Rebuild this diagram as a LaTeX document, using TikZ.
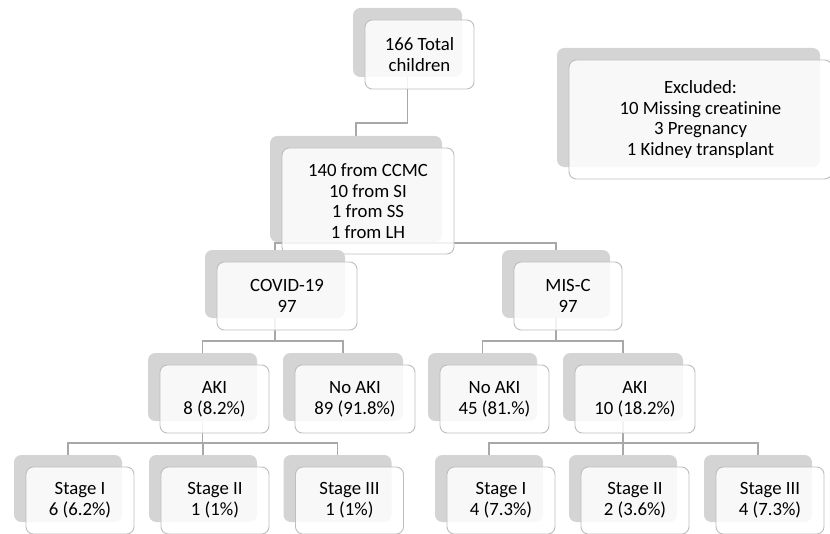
\documentclass[tikz,border=0pt]{standalone}
\usepackage{fontspec}
\setmainfont{Carlito}[Ligatures=NoCommon]
\usetikzlibrary{backgrounds}
\definecolor{boxgray}{RGB}{212,212,212}
\definecolor{edgegray}{RGB}{190,190,190}
\definecolor{linegray}{RGB}{168,168,168}

\begin{document}
\begin{tikzpicture}[x=0.03cm,y=-0.03cm]
    \tikzset{
        backbox/.style 2 args={fill=boxgray, rounded corners=0.22cm, inner sep=0pt,
                minimum width=#1*0.03cm, minimum height=#2*0.03cm},
        frontbox/.style 2 args={draw=edgegray, line width=0.8pt, fill=white, fill opacity=0.85,
                text opacity=1, rounded corners=0.22cm, inner sep=0pt, align=center,
                font=\fontsize{16}{17.6}\selectfont,
                minimum width=#1*0.03cm, minimum height=#2*0.03cm},
        link/.style={draw=linegray, line width=1.3pt},
    }
    \useasboundingbox (0,0) rectangle (830,534);

    \node [backbox={109}{69}] (top-b) at (407.5,42.5) {};
    \node [frontbox={109}{69}] (top) at ([shift={(12,12)}]top-b) {166 Total\\children};

    \node [backbox={263}{119}] (excl-b) at (688.5,107.5) {};
    \node [frontbox={263}{119}] (excl) at ([shift={(12,12)}]excl-b) {Excluded:\\10 Missing creatinine\\3 Pregnancy\\1 Kidney transplant};

    \node [backbox={172}{106}] (src-b) at (356,189) {};
    \node [frontbox={172}{106}] (src) at ([shift={(12,12)}]src-b) {140 from CCMC\\10 from SI\\1 from SS\\1 from LH};

    \node [backbox={140}{68}] (covid-b) at (275,284) {};
    \node [frontbox={140}{68}] (covid) at ([shift={(12,12)}]covid-b) {COVID-19\\97};

    \node [backbox={108}{68}] (misc-b) at (556,284) {};
    \node [frontbox={108}{68}] (misc) at ([shift={(12,12)}]misc-b) {MIS-C\\97};

    \node [backbox={109}{68}] (aki1-b) at (202.5,387) {};
    \node [frontbox={109}{68}] (aki1) at ([shift={(12,12)}]aki1-b) {AKI\\8 (8.2\%)};

    \node [backbox={120}{68}] (noaki1-b) at (343,387) {};
    \node [frontbox={120}{68}] (noaki1) at ([shift={(12,12)}]noaki1-b) {No AKI\\89 (91.8\%)};

    \node [backbox={109}{68}] (noaki2-b) at (482.5,387) {};
    \node [frontbox={109}{68}] (noaki2) at ([shift={(12,12)}]noaki2-b) {No AKI\\45 (81.\%)};

    \node [backbox={120}{68}] (aki2-b) at (623,387) {};
    \node [frontbox={120}{68}] (aki2) at ([shift={(12,12)}]aki2-b) {AKI\\10 (18.2\%)};

    \node [backbox={108}{67}] (st1-b) at (68,488.5) {};
    \node [frontbox={108}{67}] (st1) at ([shift={(12,12)}]st1-b) {Stage I\\6 (6.2\%)};

    \node [backbox={108}{67}] (st2-b) at (203,488.5) {};
    \node [frontbox={108}{67}] (st2) at ([shift={(12,12)}]st2-b) {Stage II\\1 (1\%)};

    \node [backbox={108}{67}] (st3-b) at (337.5,488.5) {};
    \node [frontbox={108}{67}] (st3) at ([shift={(12,12)}]st3-b) {Stage III\\1 (1\%)};

    \node [backbox={108}{67}] (st4-b) at (489,488.5) {};
    \node [frontbox={108}{67}] (st4) at ([shift={(12,12)}]st4-b) {Stage I\\4 (7.3\%)};

    \node [backbox={108}{67}] (st5-b) at (623,488.5) {};
    \node [frontbox={108}{67}] (st5) at ([shift={(12,12)}]st5-b) {Stage II\\2 (3.6\%)};

    \node [backbox={108}{67}] (st6-b) at (758,488.5) {};
    \node [frontbox={108}{67}] (st6) at ([shift={(12,12)}]st6-b) {Stage III\\4 (7.3\%)};

    \coordinate (bus1) at (0,123);
    \coordinate (bus2) at (0,243);
    \coordinate (bus3) at (0,341);
    \coordinate (bus4) at (0,443);

    \begin{pgfonlayer}{background}
        \draw [link] (top-b) |- (bus1 -| src-b) -- (src-b);
        \foreach \c in {covid,misc}
            \draw [link] (src-b) |- (bus2 -| \c-b) -- (\c-b);
        \foreach \c in {aki1,noaki1}
            \draw [link] (covid-b) |- (bus3 -| \c-b) -- (\c-b);
        \foreach \c in {noaki2,aki2}
            \draw [link] (misc-b) |- (bus3 -| \c-b) -- (\c-b);
        \foreach \c in {st1,st2,st3}
            \draw [link] (aki1-b) |- (bus4 -| \c-b) -- (\c-b);
        \foreach \c in {st4,st5,st6}
            \draw [link] (aki2-b) |- (bus4 -| \c-b) -- (\c-b);
    \end{pgfonlayer}
\end{tikzpicture}
\end{document}
